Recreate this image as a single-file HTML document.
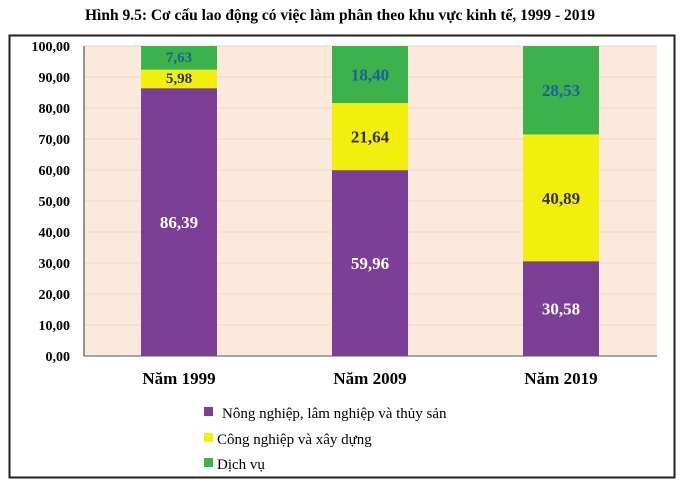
<!DOCTYPE html>
<html><head><meta charset="utf-8">
<style>
body{margin:0;background:#fff;width:680px;height:483px;overflow:hidden;font-family:"Liberation Serif",serif}
svg text{font-family:"Liberation Serif",serif}
</style></head>
<body>
<svg width="680" height="483" viewBox="0 0 680 483">
<text x="340" y="20" text-anchor="middle" font-size="15.5" font-weight="bold">Hình 9.5: Cơ cấu lao động có việc làm phân theo khu vực kinh tế, 1999 - 2019</text>
<rect x="9.5" y="35.5" width="665" height="442" fill="none" stroke="#222" stroke-width="2"/>
<rect x="84" y="46" width="573" height="310" fill="#fbe9dc"/>
<g id="grid"></g>
<g id="bars"></g>
<line x1="84" y1="46" x2="84" y2="356" stroke="#333"/>
<line x1="84" y1="356" x2="657" y2="356" stroke="#555"/>
<g id="yticks"></g>
<g id="xlabels"></g>
<g>
<rect x="204" y="407" width="9" height="9" fill="#7b3f98"/>
<text x="222" y="418" font-size="15">Nông nghiệp, lâm nghiệp và thủy sản</text>
<rect x="204" y="433" width="9" height="9" fill="#f2ee0e"/>
<text x="217" y="444" font-size="15">Công nghiệp và xây dựng</text>
<rect x="204" y="458" width="9" height="9" fill="#3db14a"/>
<text x="217" y="469" font-size="15">Dịch vụ</text>
</g>
</svg>
<script>
const categories=["Năm 1999","Năm 2009","Năm 2019"];
const agriculture=[86.39,59.96,30.58];
const industry=[5.98,21.64,40.89];
const services=[7.63,18.40,28.53];
const yTicks=[0,10,20,30,40,50,60,70,80,90,100];
const NS="http://www.w3.org/2000/svg";
const x0=84,x1=657,yTop=46,yBot=356;
const y=v=>yBot-(v/100)*(yBot-yTop);
const band=(x1-x0)/categories.length;
const cx=i=>x0+band*(i+0.5)-0.5;
const bw=76;
function mk(tag,attrs,parent){const e=document.createElementNS(NS,tag);for(const k in attrs)e.setAttribute(k,attrs[k]);parent.appendChild(e);return e;}
const grid=document.getElementById('grid'),yt=document.getElementById('yticks'),bars=document.getElementById('bars'),xl=document.getElementById('xlabels');
yTicks.forEach(t=>{
  if(t>0){const l=mk('line',{x1:x0,x2:x1,y1:y(t),y2:y(t),stroke:'#f0d6c4','stroke-width':1},grid);
  
  }
  const tx=mk('text',{x:70,y:y(t)+5,'text-anchor':'end','font-size':14,'font-weight':'bold'},yt);
  tx.textContent=t.toFixed(2).replace('.',',');
  
  
});
const series=[
 {name:'agriculture',vals:agriculture,fill:'#7b3f98',txt:'#ffffff'},
 {name:'industry',vals:industry,fill:'#f2ee0e',txt:'#333333'},
 {name:'services',vals:services,fill:'#3db14a',txt:'#1f5fa0'}];
categories.forEach((c,i)=>{
  let base=0;
  series.forEach(s=>{
    const v=s.vals[i];
    const r=mk('rect',{x:cx(i)-bw/2,y:y(base+v),width:bw,height:y(base)-y(base+v),fill:s.fill},bars);
    
    
    const small=v<10;
    const t=mk('text',{x:cx(i),y:(y(base)+y(base+v))/2+(small?4:6),'text-anchor':'middle','font-size':small?15:17,'font-weight':'bold',fill:s.txt},bars);
    t.textContent=v.toFixed(2).replace('.',',');
    
    
    base+=v;
  });
  const lt=mk('text',{x:cx(i),y:384,'text-anchor':'middle','font-size':17,'font-weight':'bold'},xl);
  lt.textContent=c;
  
  
});
</script>
</body></html>
